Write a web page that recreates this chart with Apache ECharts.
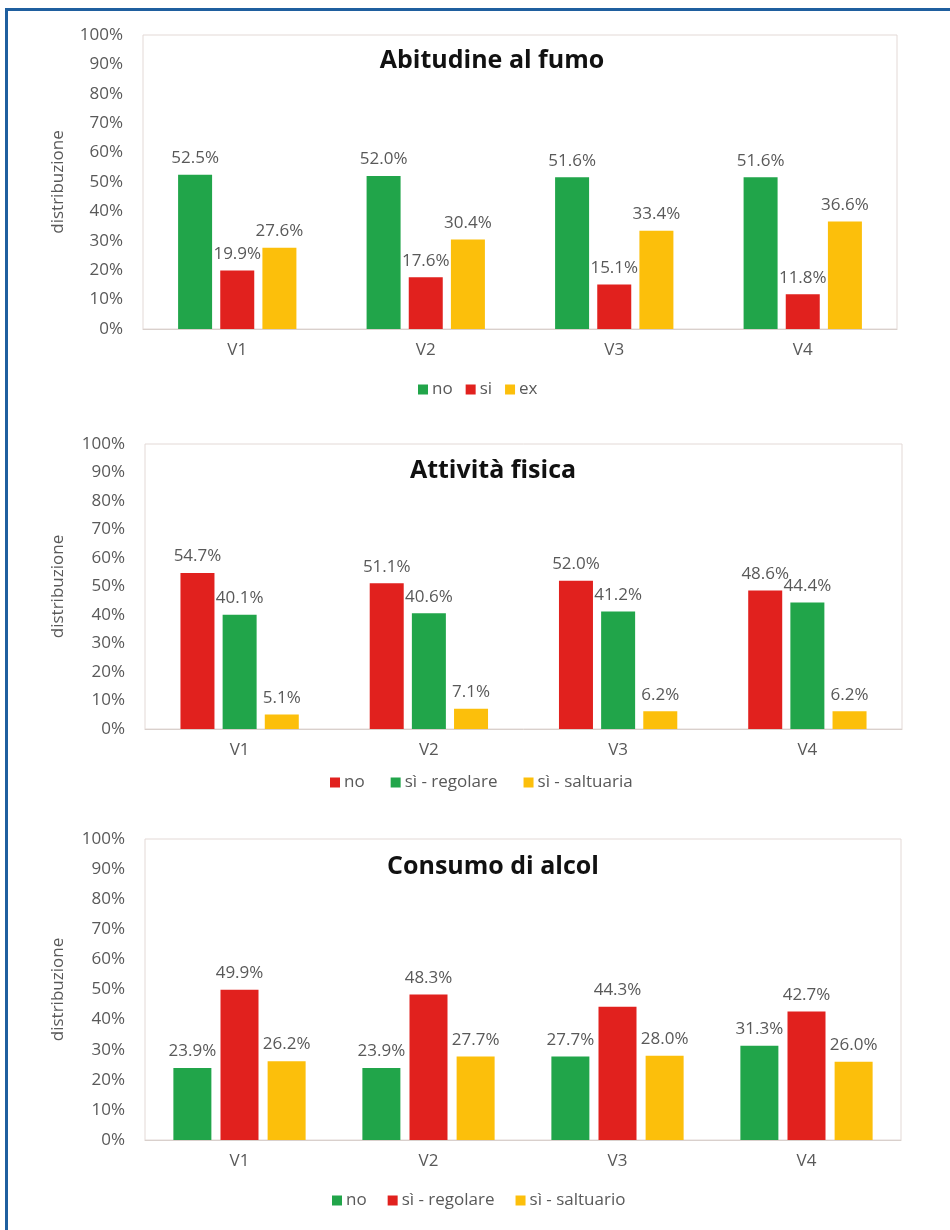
<!DOCTYPE html>
<html>
<head>
<meta charset="utf-8">
<script src="https://cdn.jsdelivr.net/npm/echarts@6/dist/echarts.min.js"></script>
<style>
  html, body { margin: 0; padding: 0; background: #ffffff; }
  #page { position: relative; width: 950px; height: 1230px; overflow: hidden; background: #fff; }
  #frame { position: absolute; left: 5px; top: 8px; right: -10px; bottom: -10px;
           border-top: 3px solid #1f5f9f; border-left: 3px solid #1f5f9f; }
  .chart { position: absolute; left: 0; width: 950px; }
</style>
</head>
<body>
<div id="page">
  <div id="frame"></div>
  <div id="c1" class="chart" style="top:0;height:410px"></div>
  <div id="c2" class="chart" style="top:410px;height:400px"></div>
  <div id="c3" class="chart" style="top:810px;height:420px"></div>
</div>
<script>
// visits
const visits = ['V1', 'V2', 'V3', 'V4'];
const yTicks = [0, 10, 20, 30, 40, 50, 60, 70, 80, 90, 100];

// Abitudine al fumo (%)
const fumoNo = [52.5, 52.0, 51.6, 51.6];
const fumoSi = [19.9, 17.6, 15.1, 11.8];
const fumoEx = [27.6, 30.4, 33.4, 36.6];

// Attività fisica (%)
const attNo = [54.7, 51.1, 52.0, 48.6];
const attRegolare = [40.1, 40.6, 41.2, 44.4];
const attSaltuaria = [5.1, 7.1, 6.2, 6.2];

// Consumo di alcol (%)
const alcNo = [23.9, 23.9, 27.7, 31.3];
const alcRegolare = [49.9, 48.3, 44.3, 42.7];
const alcSaltuario = [26.2, 27.7, 28.0, 26.0];

const GREEN = '#21a54a';
const RED = '#e1211e';
const YELLOW = '#fcbf0b';
const TEXT = '#595959';
const FONT = '"Open Sans", "DejaVu Sans", sans-serif';

function buildChart(el, cfg) {
  const chart = echarts.init(document.getElementById(el), null, { renderer: 'canvas' });
  const series = cfg.series.map(s => ({
    name: s.name,
    type: 'bar',
    data: s.data,
    barWidth: cfg.barWidth,
    barGap: '24%',
    itemStyle: { color: s.color },
    label: {
      show: true,
      position: 'top',
      distance: 8,
      color: TEXT,
      fontFamily: FONT,
      fontSize: 17,
      formatter: p => p.value.toFixed(1) + '%'
    }
  }));
  chart.setOption({
    animation: false,
    textStyle: { fontFamily: FONT },
    grid: {
      left: cfg.grid.left, right: cfg.grid.right, top: cfg.grid.top, bottom: cfg.grid.bottom,
      show: true, borderColor: '#e3d9d6', borderWidth: 1, backgroundColor: 'transparent'
    },
    graphic: [{
      type: 'text',
      x: cfg.titleX, y: cfg.titleY,
      style: {
        text: cfg.title, fill: '#111111',
        font: 'bold 25px ' + FONT,
        textAlign: 'center', textVerticalAlign: 'middle'
      }
    }],
    legend: {
      left: cfg.legendLeft, top: cfg.legendTop,
      padding: 0,
      itemWidth: 10, itemHeight: 10, itemGap: cfg.legendGap,
      icon: 'rect',
      textStyle: { color: TEXT, fontSize: 17, fontFamily: FONT, padding: [0, 0, 0, -1] },
      data: cfg.series.map(s => s.name)
    },
    xAxis: {
      type: 'category',
      data: visits,
      axisLine: { show: true, lineStyle: { color: '#d9d0cc', width: 1 } },
      axisTick: { show: false },
      axisLabel: { color: TEXT, fontSize: 17, fontFamily: FONT, margin: 13 }
    },
    yAxis: {
      type: 'value',
      min: yTicks[0], max: yTicks[yTicks.length - 1], interval: 10,
      name: 'distribuzione',
      nameLocation: 'middle',
      nameGap: cfg.nameGap,
      nameTextStyle: { color: TEXT, fontSize: 17, fontFamily: FONT },
      axisLine: { show: false },
      axisTick: { show: false },
      splitLine: { show: false },
      axisLabel: { color: TEXT, fontSize: 17, fontFamily: FONT, margin: 20, formatter: '{value}%' }
    },
    series: series
  });
}

buildChart('c1', {
  title: 'Abitudine al fumo', titleX: 492, titleY: 61,
  grid: { left: 143, right: 53, top: 35, bottom: 81 },
  barWidth: 34, nameGap: 76,
  legendLeft: 418, legendTop: 381, legendGap: 13,
  series: [
    { name: 'no', data: fumoNo, color: GREEN },
    { name: 'si', data: fumoSi, color: RED },
    { name: 'ex', data: fumoEx, color: YELLOW }
  ]
});

buildChart('c2', {
  title: 'Attività fisica', titleX: 493, titleY: 61,
  grid: { left: 145, right: 48, top: 34, bottom: 81 },
  barWidth: 34, nameGap: 78,
  legendLeft: 330, legendTop: 364, legendGap: 26,
  series: [
    { name: 'no', data: attNo, color: RED },
    { name: 'sì - regolare', data: attRegolare, color: GREEN },
    { name: 'sì - saltuaria', data: attSaltuaria, color: YELLOW }
  ]
});

buildChart('c3', {
  title: 'Consumo di alcol', titleX: 493, titleY: 57,
  grid: { left: 145, right: 49, top: 29, bottom: 90 },
  barWidth: 38, nameGap: 78,
  legendLeft: 332, legendTop: 382, legendGap: 21,
  series: [
    { name: 'no', data: alcNo, color: GREEN },
    { name: 'sì - regolare', data: alcRegolare, color: RED },
    { name: 'sì - saltuario', data: alcSaltuario, color: YELLOW }
  ]
});
</script>
</body>
</html>
